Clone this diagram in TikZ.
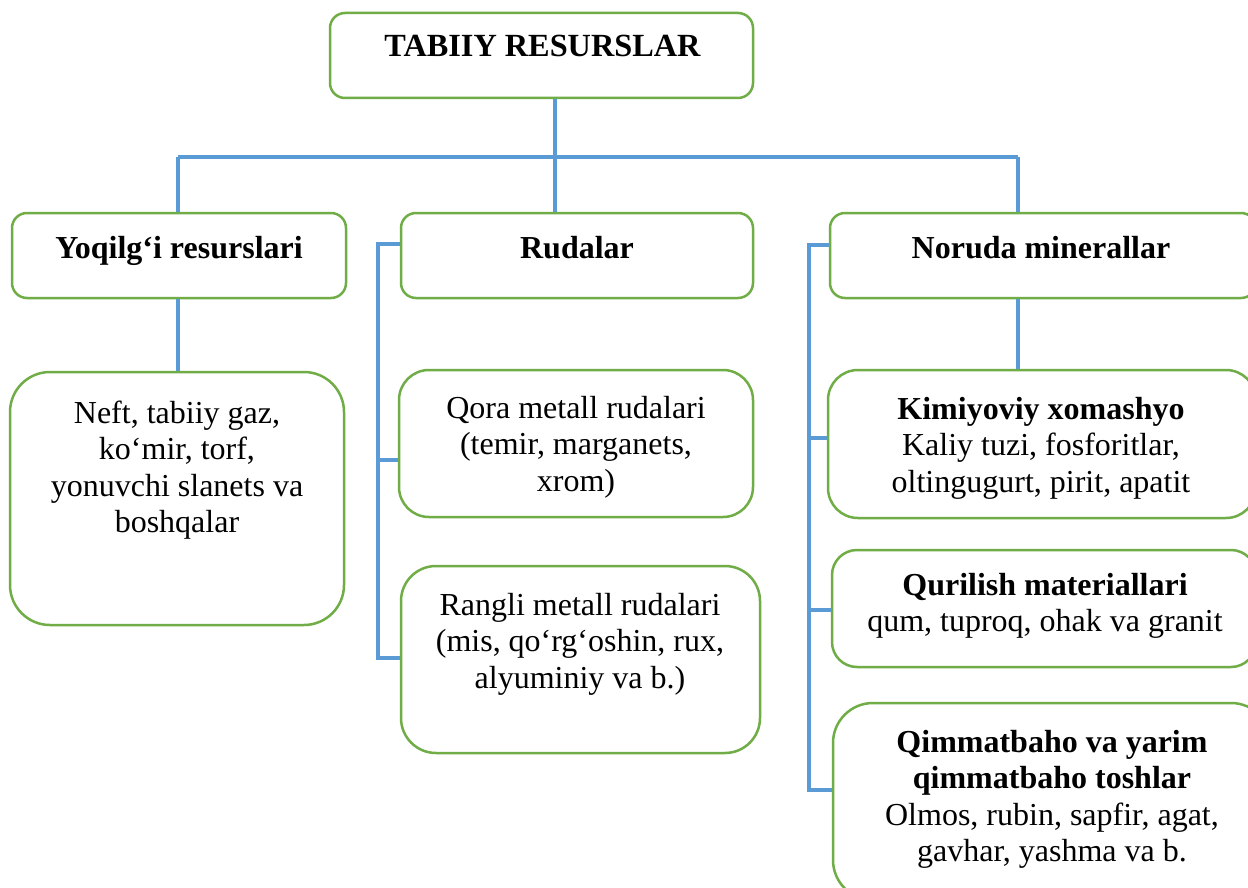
\documentclass[tikz,border=0pt]{standalone}
\usepackage{fontspec}
\setmainfont{Liberation Serif}
\definecolor{boxgreen}{HTML}{70AD47}
\definecolor{linkblue}{HTML}{5B9BD5}
\begin{document}
\begin{tikzpicture}[x=1pt,y=-1pt,
  box/.style={draw=boxgreen, line width=2.5pt, fill=white, inner sep=0pt, rounded corners=15pt},
  txt/.style={align=center, inner sep=0pt, anchor=base, font=\fontsize{32}{36.5}\selectfont},
  link/.style={draw=linkblue, line width=4pt}]
\useasboundingbox (0,0) rectangle (1248,888);
\clip (0,0) rectangle (1248,888);
\fill[white] (0,0) rectangle (1248,888);

% boxes
\node[box, minimum width=423pt, minimum height=85pt] (top) at (541.5,55.5) {};
\node[box, minimum width=334pt, minimum height=85pt] (yoq) at (179,255.5) {};
\node[box, minimum width=352pt, minimum height=85pt] (rud) at (577,255.5) {};
\node[box, minimum width=426pt, minimum height=85pt] (nor) at (1043,255.5) {};
\node[box, rounded corners=40pt, minimum width=334pt, minimum height=253pt] (neft) at (177,498.5) {};
\node[box, rounded corners=30pt, minimum width=354pt, minimum height=147pt] (qora) at (576,443.5) {};
\node[box, rounded corners=35pt, minimum width=359pt, minimum height=187pt] (rang) at (580.5,659.5) {};
\node[box, rounded corners=30pt, minimum width=428pt, minimum height=148pt] (kim) at (1042,444) {};
\node[box, rounded corners=25pt, minimum width=424pt, minimum height=117pt] (qur) at (1044,608.5) {};
\node[box, rounded corners=40pt, minimum width=438pt, minimum height=197pt] (qim) at (1052,801.5) {};

% texts (anchor base = baseline of last line)
\node[txt, font=\fontsize{32.3}{38}\selectfont\bfseries] (topT) at (542.5,57) {TABIIY RESURSLAR};
\node[txt, font=\fontsize{32}{36.5}\selectfont\bfseries] (yoqT) at (179,258) {Yoqilg‘i resurslari};
\node[txt, font=\fontsize{32}{36.5}\selectfont\bfseries] (rudT) at (577,258) {Rudalar};
\node[txt, font=\fontsize{32}{36.5}\selectfont\bfseries] (norT) at (1041,258) {Noruda minerallar};
\node[txt] (neftT) at (177,532.5) {Neft, tabiiy gaz,\\ko‘mir, torf,\\yonuvchi slanets va\\boshqalar};
\node[txt] (qoraT) at (576,491) {Qora metall rudalari\\(temir, marganets,\\xrom)};
\node[txt] (rangT) at (580,688) {Rangli metall rudalari\\(mis, qo‘rg‘oshin, rux,\\alyuminiy va b.)};
\node[txt] (kimT) at (1041,492) {\textbf{Kimiyoviy xomashyo}\\Kaliy tuzi, fosforitlar,\\oltingugurt, pirit, apatit};
\node[txt] (qurT) at (1045,631.5) {\textbf{Qurilish materiallari}\\qum, tuproq, ohak va granit};
\node[txt] (qimT) at (1052,861.5) {\textbf{Qimmatbaho va yarim}\\\textbf{qimmatbaho toshlar}\\Olmos, rubin, sapfir, agat,\\gavhar, yashma va b.};

% connectors
\coordinate (busL) at (178,157);
\coordinate (busR) at (1018,157);
\draw[link] ([xshift=13.5pt]top.south) -- ([xshift=13.5pt]top.south |- busL);
\draw[link] (busL) -- (busR);
\draw[link] (busL) -- (busL |- yoq.north);
\draw[link] ([xshift=13.5pt]top.south |- busL) -- ([xshift=13.5pt]top.south |- rud.north);
\draw[link] (busR) -- (busR |- nor.north);
\draw[link] ([xshift=-1pt]yoq.south) -- ([xshift=-1pt]yoq.south |- neft.north);
\draw[link] (busR |- nor.south) -- (busR |- kim.north);

% bracket left of Rudalar column
\draw[link] ([yshift=11.5pt]rud.west) -- ++(-22pt,0) |- ([yshift=1.5pt]rang.west);
\draw[link] ([yshift=-16.5pt]qora.west) -- ++(-20pt,0);

% bracket left of Noruda column
\draw[link] ([yshift=10.5pt]nor.west) -- ++(-20pt,0) |- ([yshift=11.5pt]qim.west);
\draw[link] ([yshift=6pt]kim.west) -- ++(-18pt,0);
\draw[link] ([yshift=-1.5pt]qur.west) -- ++(-22pt,0);
\end{tikzpicture}
\end{document}
